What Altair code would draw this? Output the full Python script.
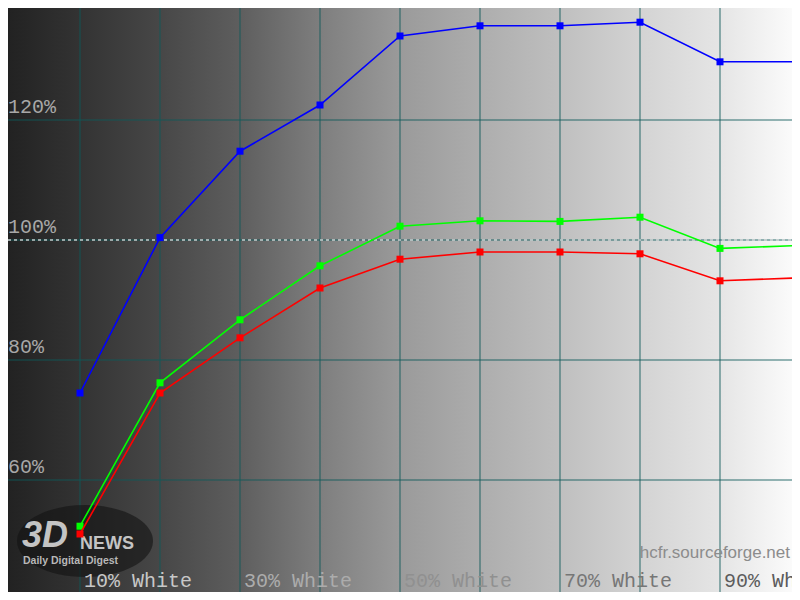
import altair as alt
import pandas as pd

# ---- data ----
levels = [10, 20, 30, 40, 50, 60, 70, 80, 90, 100]
red = [51.0, 74.5, 83.7, 92.0, 96.8, 98.0, 98.0, 97.7, 93.2, 93.7]
green = [52.3, 76.2, 86.7, 95.7, 102.3, 103.2, 103.1, 103.8, 98.6, 99.1]
blue = [74.5, 100.4, 114.8, 122.5, 134.0, 135.7, 135.7, 136.3, 129.7, 129.7]

tick_levels = [10, 30, 50, 70, 90]
tick_labels = ["10% White", "30% White", "50% White", "70% White", "90% White"]
grid_x = [10, 20, 30, 40, 50, 60, 70, 80, 90, 100]
grid_y = [60, 80, 120]
ref_level = [100]
ylab_values = [60, 80, 100, 120]
ylab_texts = ["60%", "80%", "100%", "120%"]

W, H = 784, 584
xs = alt.Scale(domain=[1, 99], nice=False, zero=False)
ys = alt.Scale(domain=[40 + 8 / 6, 140 - 8 / 6], nice=False, zero=False)
GRID = "#105a5a"

# background gradient (spans 0..100 % of the x range)
bg_df = pd.DataFrame({"x0": [0], "x1": [100]})
stops = [(0.0, "#202020"), (0.1, "#333333"), (0.2, "#474747"), (0.3, "#5e5e5e"),
         (0.4, "#7e7e7e"), (0.5, "#9a9a9a"), (0.6, "#adadad"), (0.7, "#bfbfbf"),
         (0.8, "#d3d3d3"), (0.9, "#e5e5e5"), (1.0, "#fdfdfd")]
grad = alt.Gradient(gradient="linear",
                    stops=[alt.GradientStop(color=c, offset=o) for o, c in stops],
                    x1=0, x2=1, y1=0, y2=0)
background = alt.Chart(bg_df).mark_rect(fill=grad, strokeWidth=0).encode(
    x=alt.X("x0:Q", scale=xs, axis=None),
    x2="x1:Q",
    y=alt.value(0), y2=alt.value(H),
)

vgrid = alt.Chart(pd.DataFrame({"g": grid_x})).mark_rule(
    color=GRID, opacity=0.58, strokeWidth=1.5).encode(
    x=alt.X("g:Q", scale=xs, axis=None), y=alt.value(0), y2=alt.value(H))

hgrid = alt.Chart(pd.DataFrame({"g": grid_y + ref_level})).mark_rule(
    color=GRID, opacity=0.58, strokeWidth=1.5).encode(
    y=alt.Y("g:Q", scale=ys, axis=None), x=alt.value(0), x2=alt.value(W))

refline = alt.Chart(pd.DataFrame({"g": ref_level})).mark_rule(
    color="#e2e2e2", opacity=0.85, strokeWidth=1.5, strokeDash=[3, 3]).encode(
    y=alt.Y("g:Q", scale=ys, axis=None), x=alt.value(0), x2=alt.value(W))

ylabels = alt.Chart(pd.DataFrame({"v": ylab_values, "t": ylab_texts})).mark_text(
    align="left", baseline="alphabetic", dy=-7, font="Liberation Mono",
    fontSize=20, color="#a8a8a8").encode(
    y=alt.Y("v:Q", scale=ys, axis=None), x=alt.value(0), text="t:N")

xlabels = alt.Chart(pd.DataFrame({"lv": tick_levels, "t": tick_labels})).mark_text(
    align="left", baseline="bottom", dx=4, font="Liberation Mono",
    fontSize=20).encode(
    x=alt.X("lv:Q", scale=xs, axis=None), y=alt.value(583), text="t:N",
    color=alt.Color("lv:Q", scale=alt.Scale(domain=[10, 90], range=["#c8c8c8", "#5c5c5c"]),
                    legend=None))

# watermarks
hcfr = alt.Chart(pd.DataFrame({"t": ["hcfr.sourceforge.net"]})).mark_text(
    align="right", baseline="alphabetic", font="Liberation Sans", fontSize=17,
    color="#8c8c8c").encode(x=alt.value(782), y=alt.value(550), text="t:N")

blob = alt.Chart(pd.DataFrame({"a": [0]})).mark_point(
    shape="M -1 0 A 1 0.53 0 1 0 1 0 A 1 0.53 0 1 0 -1 0 Z",
    filled=True, color="#121212", opacity=0.6, size=18500).encode(
    x=alt.value(77), y=alt.value(533))
logo3d = alt.Chart(pd.DataFrame({"t": ["3D"]})).mark_text(
    align="left", baseline="bottom", font="Liberation Sans", fontSize=36,
    fontWeight="bold", fontStyle="italic", color="#c4c4c4").encode(
    x=alt.value(14), y=alt.value(547), text="t:N")
logonews = alt.Chart(pd.DataFrame({"t": ["NEWS"]})).mark_text(
    align="left", baseline="alphabetic", font="Liberation Sans", fontSize=18,
    fontWeight="bold", color="#c4c4c4").encode(
    x=alt.value(72), y=alt.value(541), text="t:N")
logosub = alt.Chart(pd.DataFrame({"t": ["Daily Digital Digest"]})).mark_text(
    align="left", baseline="top", font="Liberation Sans", fontSize=10.5,
    fontWeight="bold", color="#b8b8b8").encode(
    x=alt.value(15), y=alt.value(548), text="t:N")

series_layers = []
for name, vals, col in [("Blue", blue, "#0000ff"), ("Green", green, "#00ff00"), ("Red", red, "#ff0000")]:
    df = pd.DataFrame({"level": levels, "value": vals, "channel": name})
    base = alt.Chart(df).encode(
        x=alt.X("level:Q", scale=xs, axis=None),
        y=alt.Y("value:Q", scale=ys, axis=None))
    series_layers.append(base.mark_line(color=col, strokeWidth=1.6))
    series_layers.append(base.mark_square(color=col, size=49, opacity=1, filled=True))

chart = alt.layer(
    background, vgrid, hgrid, refline, blob, logo3d, logonews, logosub, hcfr,
    ylabels, xlabels, *series_layers
).properties(
    width=W, height=H, padding=0,
    autosize=alt.AutoSizeParams(type="none"),
).configure_view(stroke=None)

chart.save("out.html", embed_options={"renderer": "svg", "actions": False})
